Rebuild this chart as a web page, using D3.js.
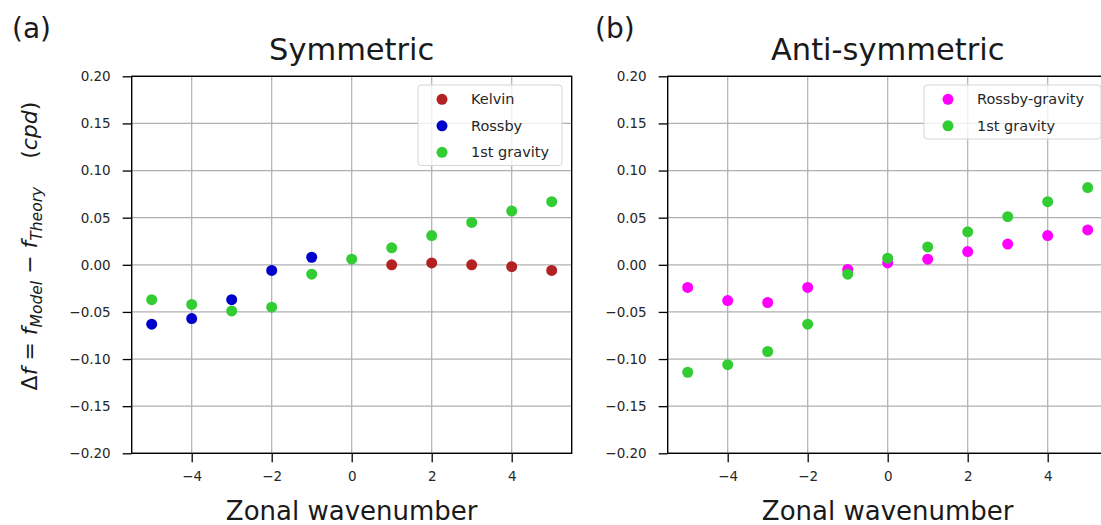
<!DOCTYPE html>
<html>
<head>
<meta charset="utf-8">
<script src="https://cdn.jsdelivr.net/npm/d3@7"></script>
<style>
  body { margin: 0; background: #fff; }
  text { font-family: 'DejaVu Sans', sans-serif; }
</style>
</head>
<body>
<svg id="chart"></svg>
<script>
let width = 1101
let height = 525

// zonal wavenumbers
let waveNumbers = [-5, -4, -3, -2, -1, 0, 1, 2, 3, 4, 5]
let kelvinK = [1, 2, 3, 4, 5]
let rossbyK = [-5, -4, -3, -2, -1]

// symmetric panel (cpd)
let kelvinDf = [0.000, 0.002, 0.000, -0.002, -0.006]
let rossbyDf = [-0.063, -0.057, -0.037, -0.006, 0.008]
let symGravityDf = [-0.037, -0.042, -0.049, -0.045, -0.010, 0.006, 0.018, 0.031, 0.045, 0.057, 0.067]

// anti-symmetric panel (cpd)
let mrgDf = [-0.024, -0.038, -0.040, -0.024, -0.005, 0.002, 0.006, 0.014, 0.022, 0.031, 0.037]
let antiGravityDf = [-0.114, -0.106, -0.092, -0.063, -0.010, 0.007, 0.019, 0.035, 0.051, 0.067, 0.082]

let xTicks = [-4, -2, 0, 2, 4]
let yTicks = [-0.20, -0.15, -0.10, -0.05, 0.00, 0.05, 0.10, 0.15, 0.20]

let svg = d3.select('#chart')
            .attr('width', width)
            .attr('height', height)

function zip(ks, vs) {
  return ks.map((k, i) => ({ k: k, v: vs[i] }))
}

function drawPanel(opts) {
  let xScale = d3.scaleLinear()
                  .domain([-5.5, 5.5])
                  .range([opts.left, opts.left + 440])
  let yScale = d3.scaleLinear()
                  .domain([-0.2, 0.2])
                  .range([453.3, 76.3])

  let g = svg.append('g')

  // grid
  g.append('g')
    .selectAll('line')
    .data(xTicks)
    .enter()
    .append('line')
      .attr('x1', d => xScale(d)).attr('x2', d => xScale(d))
      .attr('y1', yScale.range()[0]).attr('y2', yScale.range()[1])
      .attr('stroke', '#b0b0b0').attr('stroke-width', 1.2)
  g.append('g')
    .selectAll('line')
    .data(yTicks)
    .enter()
    .append('line')
      .attr('x1', xScale.range()[0]).attr('x2', xScale.range()[1])
      .attr('y1', d => yScale(d)).attr('y2', d => yScale(d))
      .attr('stroke', '#b0b0b0').attr('stroke-width', 1.2)

  let xAxis = d3.axisBottom(xScale)
                .tickValues(xTicks)
                .tickFormat(d3.format('d'))
                .tickSize(9)
                .tickSizeOuter(0)
                .tickPadding(9)
  let yAxis = d3.axisLeft(yScale)
                .tickValues(yTicks)
                .tickFormat(d3.format('.2f'))
                .tickSize(9)
                .tickSizeOuter(0)
                .tickPadding(12)

  g.append('g')
    .attr('transform', `translate(0, ${yScale.range()[0]})`)
    .call(xAxis)
    .call(a => a.select('.domain').remove())
    .call(a => a.selectAll('line').attr('stroke-width', 1.3))
    .call(a => a.selectAll('text').style('font-size', '13.5px').attr('fill', '#262626'))
  g.append('g')
    .attr('transform', `translate(${xScale.range()[0]}, 0)`)
    .call(yAxis)
    .call(a => a.select('.domain').remove())
    .call(a => a.selectAll('line').attr('stroke-width', 1.3))
    .call(a => a.selectAll('text').style('font-size', '13.5px').attr('fill', '#262626'))

  // points
  opts.series.forEach(s => {
    g.append('g')
      .selectAll('circle')
      .data(zip(s.k, s.v))
      .enter()
      .append('circle')
        .attr('cx', d => xScale(d.k))
        .attr('cy', d => yScale(d.v))
        .attr('r', 5.5)
        .attr('fill', s.color)
  })

  // spines
  g.append('rect')
    .attr('x', xScale.range()[0])
    .attr('y', yScale.range()[1])
    .attr('width', xScale.range()[1] - xScale.range()[0])
    .attr('height', yScale.range()[0] - yScale.range()[1])
    .attr('fill', 'none')
    .attr('stroke', '#000')
    .attr('stroke-width', 1.4)

  // legend
  let lg = g.append('g')
            .attr('transform', `translate(${opts.legendX}, 85)`)
  lg.append('rect')
    .attr('width', opts.legendW)
    .attr('height', 26.5 * opts.series.length + 1)
    .attr('rx', 3)
    .attr('fill', 'rgba(255,255,255,0.8)')
    .attr('stroke', '#d6d6d6')
  opts.series.forEach((s, i) => {
    lg.append('circle')
      .attr('cx', 24)
      .attr('cy', 14.3 + i * 26.5)
      .attr('r', 5.5)
      .attr('fill', s.color)
    lg.append('text')
      .attr('x', 53)
      .attr('y', 14.3 + i * 26.5)
      .attr('dy', '0.35em')
      .style('font-size', '14.5px')
      .attr('fill', '#262626')
      .text(s.name)
  })

  // title
  svg.append('text')
    .attr('x', (xScale.range()[0] + xScale.range()[1]) / 2)
    .attr('y', 60)
    .style('text-anchor', 'middle')
    .style('font-size', '30.5px')
    .attr('fill', '#1a1a1a')
    .text(opts.title)

  // panel letter
  svg.append('text')
    .attr('x', opts.letterX)
    .attr('y', 38)
    .style('font-size', '28px')
    .attr('fill', '#1a1a1a')
    .text(opts.letter)

  // x label
  svg.append('text')
    .attr('x', (xScale.range()[0] + xScale.range()[1]) / 2)
    .attr('y', 520)
    .style('text-anchor', 'middle')
    .style('font-size', '26px')
    .attr('fill', '#1a1a1a')
    .text('Zonal wavenumber')
}

drawPanel({
  left: 131.7,
  title: 'Symmetric',
  letter: '(a)',
  letterX: 12,
  legendX: 418,
  legendW: 144,
  series: [
    { name: 'Kelvin', k: kelvinK, v: kelvinDf, color: '#b22222' },
    { name: 'Rossby', k: rossbyK, v: rossbyDf, color: '#0000cd' },
    { name: '1st gravity', k: waveNumbers, v: symGravityDf, color: '#32cd32' }
  ]
})

drawPanel({
  left: 667.7,
  title: 'Anti-symmetric',
  letter: '(b)',
  letterX: 595,
  legendX: 924,
  legendW: 177,
  series: [
    { name: 'Rossby-gravity', k: waveNumbers, v: mrgDf, color: '#ff00ff' },
    { name: '1st gravity', k: waveNumbers, v: antiGravityDf, color: '#32cd32' }
  ]
})

// y label with math-style subscripts
let yLabel = svg.append('text')
  .attr('transform', 'translate(37, 246) rotate(-90)')
  .style('text-anchor', 'middle')
  .style('font-size', '22px')
  .attr('fill', '#1a1a1a')
yLabel.append('tspan').text('Δ')
yLabel.append('tspan').style('font-style', 'italic').text('f')
yLabel.append('tspan').text(' = ')
yLabel.append('tspan').style('font-style', 'italic').text('f')
yLabel.append('tspan').style('font-style', 'italic').style('font-size', '15.5px').attr('dy', 5).text('Model')
yLabel.append('tspan').attr('dy', -5).text(' − ')
yLabel.append('tspan').style('font-style', 'italic').text('f')
yLabel.append('tspan').style('font-style', 'italic').style('font-size', '15.5px').attr('dy', 5).text('Theory')
yLabel.append('tspan').attr('dy', -5).text('\u00a0\u00a0\u00a0\u00a0(')
yLabel.append('tspan').style('font-style', 'italic').text('cpd')
yLabel.append('tspan').text(')')
</script>
</body>
</html>
